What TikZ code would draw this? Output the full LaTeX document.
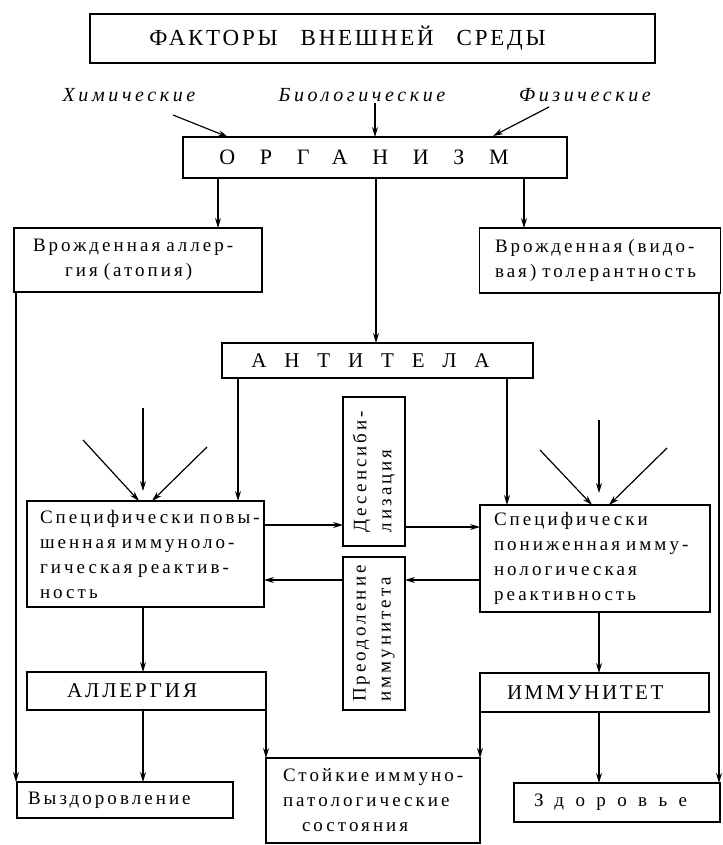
\documentclass[tikz,border=0pt]{standalone}
\usepackage{fontspec}
\setmainfont{Liberation Serif}
\newfontfamily\bodyf[LetterSpace=16]{Liberation Serif}
\newfontfamily\capf[LetterSpace=12]{Liberation Serif}
\newfontfamily\hcapf[LetterSpace=14]{Liberation Serif}
\newfontfamily\orgf[LetterSpace=112]{Liberation Serif}
\newfontfamily\antif[LetterSpace=85]{Liberation Serif}
\newfontfamily\zdf[LetterSpace=60]{Liberation Serif}
\newfontfamily\itf[LetterSpace=18]{Liberation Serif}
\newcommand\bodyfont{\bodyf\fontsize{19}{25}\selectfont}
\newcommand\wsp{\hspace{6pt}}
\usetikzlibrary{arrows.meta}
\begin{document}
\begin{tikzpicture}[x=1pt,y=-1pt,
  box/.style 2 args={draw,line width=1.4pt,minimum width=#1,minimum height=#2,inner sep=0pt,outer sep=0pt},
  lt/.style={text width=#1,align=left},
  body/.style={font=\bodyfont},
  arr/.style={-{Stealth[length=10pt,width=6pt]},line width=1.2pt},
  lab/.style={font=\itf\itshape\fontsize{20}{22}\selectfont,inner sep=0pt}]
\fill[white] (0,0) rectangle (722,845);
\useasboundingbox (0,0) rectangle (722,845);

% boxes
\node[box={565}{49},font=\capf\fontsize{23}{25}\selectfont] (top) at (372.5,38.5) {\raisebox{-2pt}{ФАКТОРЫ\quad ВНЕШНЕЙ\quad СРЕДЫ}\kern50pt};
\node[lab] (chem) at (129,95) {Химические};
\node[lab] (bio) at (362,95) {Биологические};
\node[lab] (phys) at (585,95) {Физические};
\node[box={384}{41},font=\orgf\fontsize{22}{24}\selectfont] (org) at (375,157.5) {ОРГАНИЗМ\kern22pt};
\node[box={248}{64},body,lt=210pt] (atopy) at (138,260) {\mbox{Врожденная\wsp аллер-}\\\hspace*{32pt}гия\wsp (атопия)};
\node[box={241}{65},body,lt=210pt] (toler) at (600,260.5) {\mbox{Врожденная\wsp (видо-}\\\mbox{вая)\wsp толерантность}};
\node[box={311}{35},font=\antif\fontsize{21}{24}\selectfont] (anti) at (377.5,360.5) {АНТИТЕЛА\kern14pt};
\node[box={237}{106},body,lt=211pt] (spl) at (145.5,554) {\mbox{Специфически\wsp повы-}\\\mbox{шенная\wsp иммуноло-}\\\mbox{гическая\wsp реактив-}\\ность};
\node[box={230}{107},body,lt=202pt] (spr) at (595,558.5) {Специфически\\\mbox{пониженная\wsp имму-}\\нологическая\\реактивность};
\node[box={62}{149}] (des) at (374,471.5) {};
\node[body,rotate=90,align=left,inner sep=0pt] (desT) at (des.center) {Десенсиби-\\лизация};
\node[box={62}{153}] (pre) at (374,633.5) {};
\node[body,rotate=90,align=left,inner sep=0pt] (preT) at (pre.center) {Преодоление\\иммунитета};
\node[box={239}{38},font=\hcapf\fontsize{21}{24}\selectfont,lt=159pt] (allerg) at (146.5,691) {АЛЛЕРГИЯ};
\node[box={229}{39},font=\capf\fontsize{21}{24}\selectfont,lt=175pt] (immun) at (594.5,692.5) {ИММУНИТЕТ};
\node[box={216}{36},body,lt=194pt] (recov) at (125,800) {Выздоровление};
\node[box={214}{85},body,lt=180pt] (stoik) at (373,800.5) {\mbox{Стойкие\wsp иммуно-}\\патологические\\\hspace*{19pt}состояния};
\node[box={206}{39},font=\zdf\fontsize{19}{24}\selectfont,lt=166pt] (health) at (617,802.5) {Здоровье};

% factor arrows
\coordinate (chemS) at (173,115); \coordinate (chemE) at (228,137);
\coordinate (bioS) at (375,103);
\coordinate (physS) at (549,107); \coordinate (physE) at (493,136);
\draw[arr] (chemS) -- (chemE);
\draw[arr] (bioS) -- (org.north);
\draw[arr] (physS) -- (physE);

% from organism
\draw[arr] (org.south -| 218,0) -- (atopy.north -| 218,0);
\draw[arr] (org.south -| 376,0) -- (anti.north -| 376,0);
\draw[arr] (org.south -| 524,0) -- (toler.north -| 524,0);
\draw[arr] (atopy.south -| 16,0) -- (recov.north -| 16,0);
\draw[arr] (toler.south -| 719,0) -- (health.north -| 719,0);

% from antibodies
\draw[arr] (anti.south -| 238,0) -- (spl.north -| 238,0);
\draw[arr] (anti.south -| 507,0) -- (spr.north -| 507,0);

% incoming triples
\coordinate (l1) at (83,440); \coordinate (l2) at (143,408); \coordinate (l3) at (207,447);
\draw[arr] (l1) -- (spl.north -| 139,0);
\draw[arr,shorten >=10pt] (l2) -- (spl.north -| 143,0);
\draw[arr] (l3) -- (spl.north -| 152,0);
\coordinate (r1) at (540,450); \coordinate (r2) at (599,420); \coordinate (r3) at (667,448);
\draw[arr] (r1) -- (spr.north -| 592,0);
\draw[arr,shorten >=12pt] (r2) -- (spr.north -| 599,0);
\draw[arr] (r3) -- (spr.north -| 609,0);

% horizontal
\draw[arr] (spl.east |- 0,525) -- (des.west |- 0,525);
\draw[arr] (des.east |- 0,527) -- (spr.west |- 0,527);
\draw[arr] (spr.west |- 0,580) -- (pre.east |- 0,580);
\draw[arr] (pre.west |- 0,580) -- (spl.east |- 0,580);

% lower
\draw[arr] (spl.south -| 143,0) -- (allerg.north -| 143,0);
\draw[arr] (spr.south -| 599,0) -- (immun.north -| 599,0);
\draw[arr] (allerg.south -| 143,0) -- (recov.north -| 143,0);
\draw[arr] (allerg.south east) -- (stoik.north west);
\draw[arr] (immun.south west) -- (stoik.north east);
\draw[arr] (immun.south -| 599,0) -- (health.north -| 599,0);
\end{tikzpicture}
\end{document}
